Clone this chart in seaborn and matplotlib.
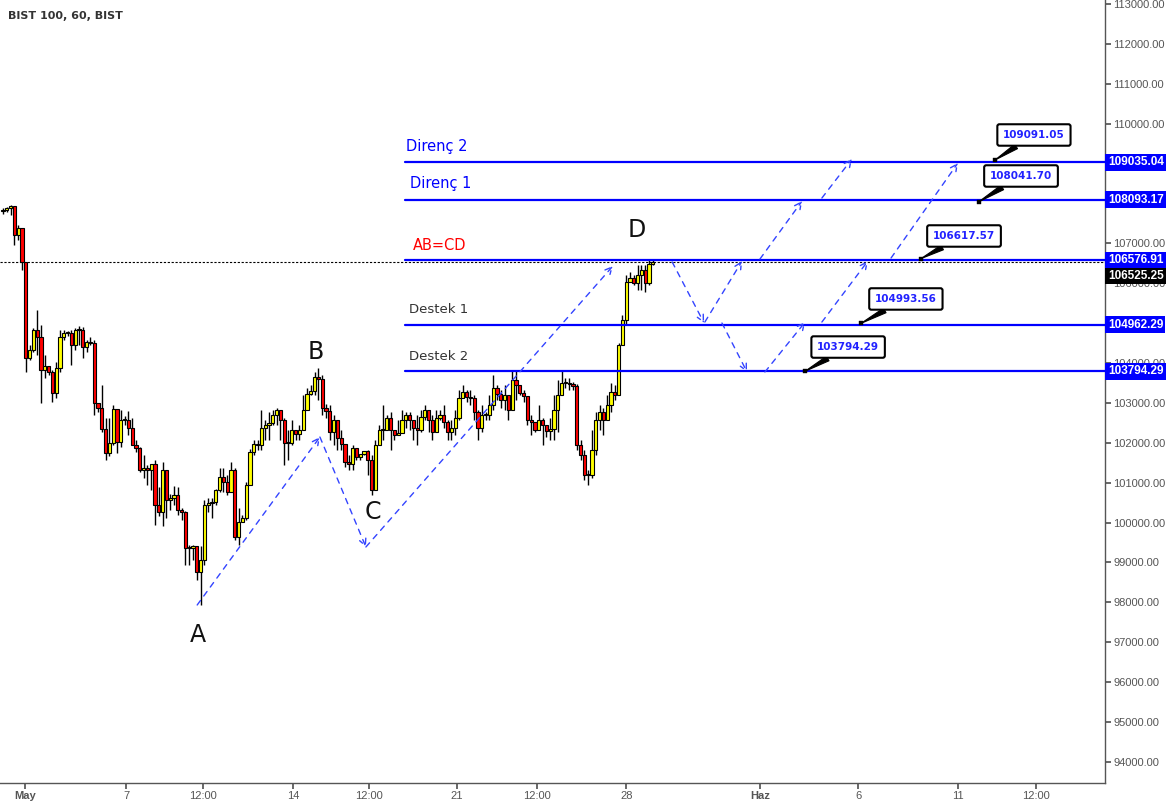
import matplotlib
matplotlib.use("Agg")
import matplotlib.pyplot as plt
import matplotlib.transforms as mtrans
import seaborn as sns
import numpy as np
import pandas as pd

closes = [107835,107885,107936,107209,107384,106532,104125,104326,104827,104651,
103824,103924,103774,103248,103874,104651,104752,104752,104451,104827,
104827,104401,104526,104501,103000,102874,102347,101746,101996,102849,
102021,102573,102573,102373,101946,101869,101317,101367,101317,101468,
100440,100264,101317,100565,100615,100690,100314,100264,99360,99360,
99410,98760,99060,100440,100490,100515,100820,101140,101010,100760,
101320,99640,100010,100110,100940,101770,101970,101940,102370,102450,
102500,102700,102820,102570,102000,102000,102320,102220,102320,102820,
103220,103300,103650,103600,102870,102800,102270,102570,102120,101970,
101520,101470,101870,101640,101720,101790,101570,100820,101940,102320,
102320,102620,102320,102190,102240,102570,102700,102570,102370,102320,
102650,102820,102570,102270,102620,102700,102520,102270,102370,102620,
103120,103270,103150,103120,102770,102370,102700,102700,102950,103370,
103220,103070,103200,102820,103570,103450,103250,103170,102570,102520,
102320,102570,102450,102300,102350,102820,103200,103500,103500,103470,
103420,101940,101690,101190,101190,101820,102570,102770,102570,102950,
103270,103200,104450,105080,106030,106130,106010,106210,106330,106010,
106480,106530]
highs = [107885,107910,107960,107910,107460,107380,106530,104450,104880,105330,
104950,104200,103900,103820,104020,104830,104830,104800,104830,104880,
104930,104900,104580,104650,104580,102970,103450,102620,102620,102950,
102750,102820,102670,102800,102620,102070,101890,101690,101440,101440,
101570,100890,101520,100940,100720,100920,100890,100360,100290,99440,
99440,99410,99410,100570,100620,100620,100840,101370,101370,101190,
101520,101370,100360,100190,101020,101840,102070,102070,102820,102570,
102770,102820,102870,102820,102620,102320,102570,102320,102450,103200,
103370,103450,103780,103880,103700,102970,102950,102700,102570,102320,
101940,101690,101940,101770,101690,101740,101820,101690,102070,102450,
102950,102700,102770,102320,102570,102820,102770,102770,102570,102700,
102820,102950,102770,102700,102820,102820,102950,102570,102570,102820,
103320,103450,103320,103320,103200,102820,102950,102770,103200,103700,
103450,103320,103450,103200,103820,103820,103450,103320,102950,102700,
102450,102950,102620,102450,102620,103200,103570,103820,103620,103620,
103520,103470,102070,101820,101320,102320,102770,102950,102870,103200,
103500,103450,104500,105200,106210,106280,106210,106460,106460,106460,
106580,106580]
lows = [107735,107790,107710,106960,107080,106330,103770,104070,104280,104200,
103000,103620,103700,103020,103120,103770,104580,104680,103950,104330,
104450,104130,104280,104450,102700,102770,102270,101570,101670,101940,
101740,101890,102450,102190,101940,101770,101270,101120,100940,100820,
99940,100160,99910,100110,100310,100440,100190,100060,98940,98940,
99060,98560,97930,98940,100260,100110,100440,100760,100760,100690,
100760,99560,99440,100060,100060,100940,101690,101820,101820,102070,
102070,102450,102450,102070,101440,101570,101940,102070,102070,102320,
102950,103200,103200,103070,102700,102620,102070,101940,101820,101820,
101390,101320,101320,101570,101570,101690,101190,100690,100820,101940,
102070,102520,101820,102070,102190,102450,102370,102320,102070,101940,
102270,102570,102270,102070,102450,102570,102370,102070,102070,102190,
102570,103120,103020,102950,102570,102070,102270,102570,102570,102820,
103070,102870,102820,102570,102820,103070,103200,103020,102450,102190,
102270,102320,101940,102150,102070,102070,102270,103320,103370,103320,
103320,101820,101570,101070,100940,101120,101690,102320,102190,102570,
102770,103070,103200,104450,104950,106030,105960,105830,105830,105780,
105960,106460]
first_open = 107800

level_values = [109035.04, 108093.17, 106576.91, 104962.29, 103794.29]
level_names = ["Direnç 2", "Direnç 1", "AB=CD", "Destek 1", "Destek 2"]
last_price = 106525.25
last_label_y = 106180

callout_values = [109091.05, 108041.70, 106617.57, 104993.56, 103794.29]
callout_idx = [261.1, 256.8, 241.6, 225.8, 211.1]
callout_box = [(271.3, 109716), (267.9, 108688), (252.9, 107184), (237.6, 105605), (222.4, 104400)]

date_labels = ["May", "7", "12:00", "14", "12:00", "21", "12:00", "28", "Haz", "6", "11", "12:00"]
date_pos = [5.8, 32.4, 52.6, 76.3, 96.3, 119.5, 140.5, 164.0, 199.2, 225.0, 251.3, 271.8]

arrows = [((51.1, 97933), (83.4, 102144)), ((83.4, 102144), (95.5, 99387)),
          ((95.5, 99387), (160.5, 106431)), ((176.1, 106532), (184.5, 105002)),
          ((184.7, 105027), (194.5, 106557)), ((199.2, 106607), (210.3, 108061)),
          ((215.5, 108136), (223.4, 109114)), ((189.2, 105002), (195.8, 103774)),
          ((200.5, 103774), (211.1, 105027)), ((215.5, 105027), (227.6, 106557)),
          ((233.7, 106632), (251.3, 109014))]
points = {"A": (51.4, 97180), "B": (82.4, 104270), "C": (97.4, 100260), "D": (166.8, 107330)}

sns.set_theme(style="white")
plt.rcParams['font.family'] = ['DejaVu Sans']

opens = [first_open] + closes[:-1]
df = pd.DataFrame({"o": opens, "h": highs, "l": lows, "c": closes})
df["i"] = np.arange(len(df))
df["h"] = df[["o", "h", "c"]].max(axis=1)
df["l"] = df[["o", "l", "c"]].min(axis=1)

fig = plt.figure(figsize=(11.7, 8.05), dpi=100)
ax = fig.add_axes([0.0, 0.0273, 1105/1170, 0.9727])
ax.set_xlim(-0.79, 290)
ax.set_ylim(93470, 113100)

ax.vlines(df["i"], df["l"], df["h"], color="black", lw=1.0, zorder=2)
up = df["c"] >= df["o"]
body_b = df[["o", "c"]].min(axis=1)
body_h = (df["c"] - df["o"]).abs().clip(lower=25)
ax.bar(df["i"], body_h, bottom=body_b, width=0.8,
       color=np.where(up, "#ffff00", "#ff0000"), edgecolor="black", lw=0.8, zorder=3)

ax.axhline(106540, color="black", ls=(0, (2, 1.5)), lw=0.8, zorder=1)

tr_r = mtrans.blended_transform_factory(ax.transAxes, ax.transData)
for v, name in zip(level_values, level_names):
    seg = pd.DataFrame({"x": [105.8, 290], "y": [v, v]})
    sns.lineplot(data=seg, x="x", y="y", ax=ax, color="#0000ff", lw=1.6, zorder=4)
col = {"AB=CD": "#ff0000", "Destek 1": "#333333", "Destek 2": "#333333"}
name_pos = {"Direnç 2": (106.0, 109250), "Direnç 1": (107.0, 108300), "AB=CD": (107.8, 106760),
            "Destek 1": (106.8, 105180), "Destek 2": (106.8, 104010)}
name_size = {"Direnç 2": 10.5, "Direnç 1": 10.5, "AB=CD": 10.5, "Destek 1": 9.5, "Destek 2": 9.5}
for name in level_names:
    ax.text(*name_pos[name], name, color=col.get(name, "#0000ff"),
            fontsize=name_size[name], va="bottom", ha="left")

for (p0, p1) in arrows:
    ax.annotate("", xy=p1, xytext=p0,
                arrowprops=dict(arrowstyle="->", color="#3344ff", lw=1.0, ls=(0, (4, 4)),
                                shrinkA=0, shrinkB=0), zorder=5)
for k, (x, y) in points.items():
    ax.text(x, y, k, fontsize=17, ha="center", va="center", color="#111111")

for v, xi, (bx, by) in zip(callout_values, callout_idx, callout_box):
    ax.annotate(f"{v:.2f}", xy=(xi, v), xytext=(bx, by), ha="center", va="center",
                fontsize=7.5, color="#2222ff", fontweight="bold",
                bbox=dict(boxstyle="round,pad=0.55,rounding_size=0.2", fc="white", ec="black", lw=1.5),
                arrowprops=dict(arrowstyle="wedge,tail_width=0.5", fc="black", ec="black", lw=0.8,
                                shrinkA=0, shrinkB=0), zorder=6)
sns.scatterplot(x=callout_idx, y=callout_values, ax=ax, color="black", s=12, marker="s", zorder=7, edgecolor=None)

ax.yaxis.tick_right()
yt = np.arange(94000, 113001, 1000)
ax.set_yticks(yt)
ax.set_yticklabels([f"{v:.2f}" for v in yt], family="Liberation Sans")
ax.tick_params(axis="y", which="both", labelsize=8, labelcolor="#555555", length=4, color="#555555",
               right=True, direction="out", pad=2)
ax.set_xticks(date_pos)
ax.set_xticklabels(date_labels, family="Liberation Sans")
ax.tick_params(axis="x", labelsize=8, labelcolor="#555555", length=4, color="#555555", bottom=True, pad=2)
for lab in ax.get_xticklabels():
    if lab.get_text() in ("May", "Haz"):
        lab.set_fontweight("bold")
for s in ["top", "left"]:
    ax.spines[s].set_visible(False)
for s in ["right", "bottom"]:
    ax.spines[s].set_color("#555555")
    ax.spines[s].set_linewidth(1.0)
ax.set_xlabel("")
ax.set_ylabel("")

for v in level_values:
    ax.text(1.0025, v, f"{v:.2f}", transform=tr_r, fontsize=8.5, color="white", fontweight="bold",
            family="Liberation Sans", va="center", ha="left",
            bbox=dict(boxstyle="square,pad=0.2", fc="#0000ff", ec="none"), zorder=10, clip_on=False)
ax.text(1.0025, last_label_y, f"{last_price:.2f}", transform=tr_r, fontsize=8.5, color="white",
        fontweight="bold", family="Liberation Sans", va="center", ha="left",
        bbox=dict(boxstyle="square,pad=0.2", fc="black", ec="none"), zorder=10, clip_on=False)

fig.text(8/1170, 1 - 16/805, "BIST 100, 60, BIST", fontsize=8, fontweight="bold", color="#333333",
         va="center", ha="left")

fig.savefig("out.png", dpi=100, facecolor="white")
